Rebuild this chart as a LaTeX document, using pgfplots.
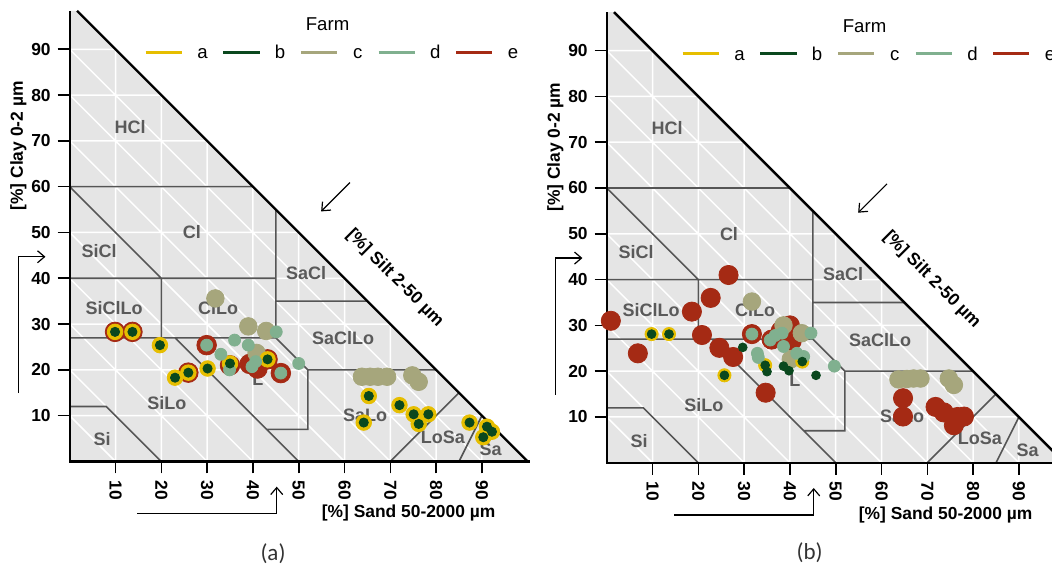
\documentclass[border=0pt]{standalone}
\usepackage{fontspec}
\setmainfont{Liberation Sans}
\newfontfamily\capfont{Carlito}
\usepackage{pgfplots}
\pgfplotsset{compat=1.18}
\usetikzlibrary{arrows.meta}

\definecolor{fa}{RGB}{230,190,0}
\definecolor{fb}{RGB}{10,72,30}
\definecolor{fc}{RGB}{166,166,124}
\definecolor{fd}{RGB}{128,176,143}
\definecolor{fe}{RGB}{165,42,20}
\definecolor{bg}{RGB}{229,229,229}
\definecolor{bound}{RGB}{85,85,85}
\definecolor{lab}{RGB}{90,90,90}

\newcommand{\lbl}{\bfseries\fontsize{8.7}{10}\selectfont}
\newcommand{\cls}{\bfseries\fontsize{9}{10}\selectfont}
\newcommand{\leg}{\fontsize{9.3}{11}\selectfont}

\pgfplotsset{
  tri/.style={
    x=2.29pt, y=2.29pt,
    xmin=0, xmax=100.4, ymin=0, ymax=98.4,
    enlargelimits=false, clip=false,
    axis lines=left, axis line style={draw=none},
    xtick={10,20,...,90}, ytick={10,20,...,90},
    tick align=outside, major tick length=6pt,
    tick style={black, line width=0.8pt},
    ticklabel style={font=\lbl},
    /pgf/number format/assume math mode=true,
    xticklabel style={rotate=-90, anchor=west},
    anchor=south west,
  },
  dots/.style={only marks, mark=*, mark size=#1, mark options={draw=none}},
  arr/.style={black, line width=0.6pt, -{Straight Barb[length=3.5pt,width=6pt]}},
}

% background, grid, class boundaries, labels and legend shared by both panels
\newcommand{\base}{%
  \addplot[draw=none, fill=bg] coordinates {(0,0) (100,0) (1.6,98.4) (0,98.4)} -- cycle;
  \addplot[white, line width=0.75pt, unbounded coords=jump] coordinates {
    (0,10) (90,10) (nan,nan) (0,20) (80,20) (nan,nan) (0,30) (70,30) (nan,nan)
    (0,40) (60,40) (nan,nan) (0,50) (50,50) (nan,nan) (0,60) (40,60) (nan,nan)
    (0,70) (30,70) (nan,nan) (0,80) (20,80) (nan,nan) (0,90) (10,90) (nan,nan)
    (10,0) (10,90) (nan,nan) (20,0) (20,80) (nan,nan) (30,0) (30,70) (nan,nan)
    (40,0) (40,60) (nan,nan) (50,0) (50,50) (nan,nan) (60,0) (60,40) (nan,nan)
    (70,0) (70,30) (nan,nan) (80,0) (80,20) (nan,nan) (90,0) (90,10) (nan,nan)
    (0,10) (10,0) (nan,nan) (0,20) (20,0) (nan,nan) (0,30) (30,0) (nan,nan)
    (0,40) (40,0) (nan,nan) (0,50) (50,0) (nan,nan) (0,60) (60,0) (nan,nan)
    (0,70) (70,0) (nan,nan) (0,80) (80,0) (nan,nan) (0,90) (90,0)
  };
  \addplot[bound, line width=0.8pt, unbounded coords=jump] coordinates {
    (0,60) (40,60) (nan,nan)
    (0,60) (20,40) (nan,nan)
    (0,40) (45,40) (nan,nan)
    (45,55) (45,27) (nan,nan)
    (45,35) (65,35) (nan,nan)
    (20,40) (20,27) (nan,nan)
    (0,27) (45,27) (52,20) (52,7) (43,7) (nan,nan)
    (52,20) (80,20) (nan,nan)
    (23,27) (50,0) (nan,nan)
    (0,12) (8,12) (20,0) (nan,nan)
    (70,0) (85,15) (nan,nan)
    (85,0) (90,10)
  };
  \addplot[black, line width=1.2pt] coordinates {(0,98.4) (0,0) (100.4,0)};
  \addplot[black, line width=1.2pt] coordinates {(1.6,98.4) (100,0)};
  \node[lab, font=\cls] at (axis cs:13.2,73) {HCl};
  \node[lab, font=\cls] at (axis cs:26.7,50) {Cl};
  \node[lab, font=\cls] at (axis cs:6.4,46) {SiCl};
  \node[lab, font=\cls] at (axis cs:51.6,41.2) {SaCl};
  \node[lab, font=\cls] at (axis cs:9.7,33.4) {SiClLo};
  \node[lab, font=\cls] at (axis cs:32.4,33.4) {ClLo};
  \node[lab, font=\cls] at (axis cs:59.7,26.9) {SaClLo};
  \node[lab, font=\cls] at (axis cs:41.1,18) {L};
  \node[lab, font=\cls] at (axis cs:21.2,12.7) {SiLo};
  \node[lab, font=\cls] at (axis cs:7.1,4.8) {Si};
  \node[lab, font=\cls] at (axis cs:64.5,10.1) {SaLo};
  \node[lab, font=\cls] at (axis cs:81.5,5.3) {LoSa};
  \node[lab, font=\cls] at (axis cs:91.9,2.7) {Sa};
  \node[rotate=90, font=\lbl] at (axis cs:-11.2,68.9) {[\%] Clay 0-2 µm};
  \node[font=\lbl] at (axis cs:74,-11.3) {[\%] Sand 50-2000 µm};
  \node[rotate=-45, font=\lbl] at (axis cs:71,40) {[\%] Silt 2-50 µm};
  \addplot[arr] coordinates {(-11.2,14.9) (-11.2,44.7) (-5.3,44.7)};
  \addplot[arr] coordinates {(14.7,-11.4) (45.2,-11.4) (45.2,-5.5)};
  \addplot[arr] coordinates {(61.2,60.9) (54.9,54.6)};
  \node[font=\leg, anchor=base] at (axis cs:56.3,94.0) {Farm};
  \addplot[fa, line width=1.5pt] coordinates {(16.6,89.3) (24.5,89.3)};
  \addplot[fb, line width=1.5pt] coordinates {(33.55,89.3) (41.45,89.3)};
  \addplot[fc, line width=1.5pt] coordinates {(50.5,89.3) (58.4,89.3)};
  \addplot[fd, line width=1.5pt] coordinates {(67.45,89.3) (75.35,89.3)};
  \addplot[fe, line width=1.5pt] coordinates {(84.4,89.3) (92.3,89.3)};
  \node[font=\leg, anchor=base] at (axis cs:29.0,87.9) {a};
  \node[font=\leg, anchor=base] at (axis cs:45.95,87.9) {b};
  \node[font=\leg, anchor=base] at (axis cs:62.9,87.9) {c};
  \node[font=\leg, anchor=base] at (axis cs:79.85,87.9) {d};
  \node[font=\leg, anchor=base] at (axis cs:96.8,87.9) {e};
}

\begin{document}
\begin{tikzpicture}

% panel (a)
\begin{axis}[tri, at={(34.85pt,51.75pt)}]
\base
\addplot[dots=4.9pt, fe] coordinates {
  (9.9,28.3) (13.7,28.3) (25.9,19.4) (29.9,25.4) (35.0,21.0)
  (39.3,21.3) (41.0,20.3) (43.2,22.3) (46.1,19.3)};
\addplot[dots=4.4pt, fc] coordinates {
  (31.8,35.6) (39.0,29.5) (42.9,28.5) (40.8,23.7) (63.8,18.5) (65.6,18.5)
  (67.3,18.5) (69.3,18.5) (74.8,18.8) (76.2,17.4)};
\addplot[dots=3.9pt, fa] coordinates {
  (9.9,28.3) (13.7,28.3) (19.7,25.4) (23.0,18.3) (25.9,19.4) (30.1,20.3)
  (35.0,21.4) (43.2,22.3) (65.3,14.3) (64.2,8.5) (72.0,12.3) (75.1,10.3)
  (76.2,8.2) (78.3,10.3) (87.3,8.5) (91.1,7.6) (92.2,6.5) (90.3,5.3)};
\addplot[dots=3pt, fd] coordinates {
  (29.9,25.4) (33.0,23.4) (36.0,26.5) (39.0,25.4) (45.1,28.3) (34.9,20.0)
  (39.8,20.7) (40.6,21.8) (46.1,19.3) (50.0,21.4)};
\addplot[dots=2.3pt, fb] coordinates {
  (9.9,28.3) (13.7,28.3) (19.7,25.4) (23.0,18.3) (25.9,19.4) (30.1,20.3)
  (35.0,21.4) (43.2,22.3) (65.3,14.3) (64.2,8.5) (72.0,12.3) (75.1,10.3)
  (76.2,8.2) (78.3,10.3) (87.3,8.5) (91.1,7.6) (92.2,6.5) (90.3,5.3)};
\end{axis}

% panel (b)
\begin{axis}[tri, at={(303.35pt,51.1pt)}]
\base
\addplot[dots=4.8pt, fe] coordinates {
  (0.9,31.0) (6.8,23.9) (18.6,33.0) (22.7,36.0) (26.6,41.0) (20.8,27.9)
  (24.6,25.1) (27.6,23.1) (34.7,15.3) (31.7,28.1) (36.0,26.9) (38.0,28.8)
  (40.0,30.0) (40.4,26.6) (64.7,14.1) (64.7,10.1) (71.8,12.2) (73.6,11.0)
  (75.8,8.2) (76.6,10.0) (78.0,10.1)};
\addplot[dots=4.4pt, fc] coordinates {
  (31.7,35.2) (38.6,30.0) (42.6,28.3) (40.2,22.6) (63.7,18.2) (65.5,18.3)
  (67.0,18.4) (68.5,18.4) (74.7,18.4) (75.8,17.0)};
\addplot[dots=3.3pt, fa] coordinates {
  (9.8,28.1) (13.6,28.1) (25.7,19.1) (34.6,21.3) (42.7,22.1)};
\addplot[dots=3pt, fd] coordinates {
  (31.7,28.1) (35.7,26.8) (36.8,27.8) (38.3,28.3) (38.6,25.4) (32.9,23.9)
  (33.1,23.0) (41.5,23.9) (43.0,23.2) (44.6,28.3) (49.7,21.1)};
\addplot[dots=2.2pt, fb] coordinates {
  (9.8,28.1) (13.6,28.1) (25.7,19.1) (34.6,21.3) (42.7,22.1) (29.7,25.2)
  (35.0,19.9) (38.6,21.1) (39.8,20.1) (45.7,19.1)};
\end{axis}

\node[font=\capfont\fontsize{11.5}{13}\selectfont, text=black!80] at (136.5pt,5.8pt) {(a)};
\node[font=\capfont\fontsize{11.5}{13}\selectfont, text=black!80] at (404.8pt,6.2pt) {(b)};

\pgfresetboundingbox
\path (0,0) rectangle (526pt,282.5pt);
\end{tikzpicture}
\end{document}
